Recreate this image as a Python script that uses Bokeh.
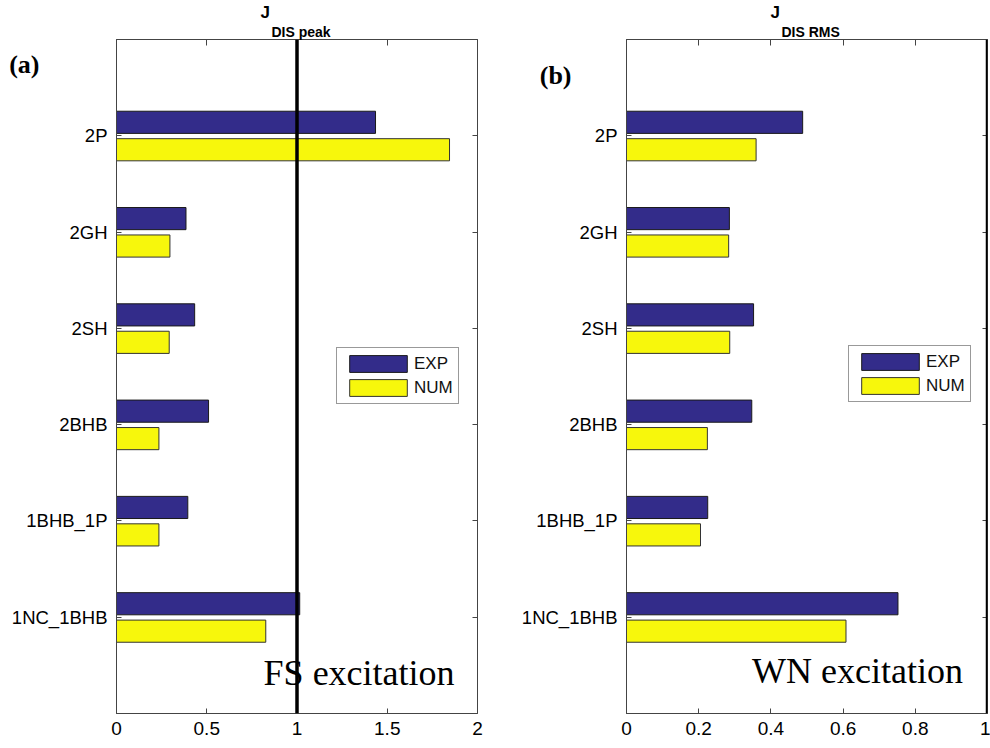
from bokeh.plotting import figure
from bokeh.models import (ColumnDataSource, FixedTicker, LinearAxis, Span, Label, Range1d, Title)
from bokeh.layouts import row
from bokeh.transform import dodge
from bokeh.embed import file_html
from bokeh.resources import INLINE

# ---- data (bottom to top) ----
categories = ["1NC_1BHB", "1BHB_1P", "2BHB", "2SH", "2GH", "2P"]
peak_exp = [1.015, 0.395, 0.51, 0.433, 0.385, 1.435]
peak_num = [0.827, 0.235, 0.235, 0.292, 0.296, 1.845]
rms_exp = [0.752, 0.225, 0.347, 0.352, 0.285, 0.488]
rms_num = [0.608, 0.205, 0.224, 0.286, 0.283, 0.359]
series_names = ["EXP", "NUM"]
peak_ticks = [0, 0.5, 1, 1.5, 2]
rms_ticks = [0, 0.2, 0.4, 0.6, 0.8, 1]

EXP_COLOR = "#332C8A"
NUM_COLOR = "#F7F70C"
FRAME = "#444444"
SANS = "Liberation Sans"
SERIF = "Liberation Serif"


def make_panel(exp, num, xmax, ticks, width, bl, br, title_sub, panel_tag,
               joff, soff, tag_y, tag_standoff, note, nx, ny, legloc):
    pos = list(range(1, len(categories) + 1))
    src = ColumnDataSource(dict(pos=pos, exp=exp, num=num))
    p = figure(width=width, height=748, output_backend="svg", toolbar_location=None,
               x_range=Range1d(0, xmax), y_range=Range1d(0, len(categories) + 1),
               min_border_left=bl, min_border_right=br, min_border_top=38,
               min_border_bottom=35, background_fill_color="white",
               border_fill_color=None, outline_line_color=FRAME)
    p.xgrid.visible = False
    p.ygrid.visible = False

    p.hbar(y=dodge("pos", 0.14, range=p.y_range), left=0, right="exp", height=0.23,
           fill_color=EXP_COLOR, line_color="#1a1a1a", line_width=1,
           legend_label=series_names[0], source=src)
    p.hbar(y=dodge("pos", -0.145, range=p.y_range), left=0, right="num", height=0.23,
           fill_color=NUM_COLOR, line_color="#333333", line_width=1,
           legend_label=series_names[1], source=src)

    p.add_layout(Span(location=1, dimension="height", line_color="black", line_width=3.5))

    # axes
    for ax in (p.xaxis[0], p.yaxis[0]):
        ax.axis_line_color = FRAME
        ax.major_tick_line_color = FRAME
        ax.major_tick_in = 5
        ax.major_tick_out = 0
        ax.minor_tick_line_color = None
        ax.major_label_text_font = SANS
        ax.major_label_text_color = "black"
    p.xaxis[0].major_label_text_font_size = "19px"
    p.yaxis[0].major_label_text_font_size = "18.5px"
    p.xaxis[0].ticker = FixedTicker(ticks=ticks)
    p.xaxis[0].major_label_standoff = 8
    p.xaxis[0].major_label_overrides = {t: (str(t) if t != int(t) else str(int(t))) for t in ticks}
    p.yaxis[0].ticker = FixedTicker(ticks=pos)
    p.yaxis[0].major_label_overrides = {i: c for i, c in zip(pos, categories)}
    p.yaxis[0].major_label_standoff = 9

    # panel tag as an outer left axis with a single labelled tick
    tag_axis = LinearAxis(ticker=FixedTicker(ticks=[tag_y]), axis_line_color=None,
                          major_tick_line_color=None, minor_tick_line_color=None,
                          major_tick_in=0, major_tick_out=0,
                          major_label_overrides={tag_y: panel_tag},
                          major_label_standoff=tag_standoff,
                          major_label_text_font=SERIF, major_label_text_font_style="bold",
                          major_label_text_font_size="26px", major_label_text_color="black")
    p.add_layout(tag_axis, "left")

    top = LinearAxis(ticker=FixedTicker(ticks=ticks), major_tick_in=6, major_tick_out=0,
                     axis_line_color=FRAME, major_tick_line_color=FRAME,
                     minor_tick_line_color=None, major_label_standoff=0,
                     major_label_overrides={t: "" for t in ticks})
    p.add_layout(top, "above")
    right = LinearAxis(ticker=FixedTicker(ticks=pos), major_tick_in=5, major_tick_out=0,
                       axis_line_color=None, major_tick_line_color=FRAME,
                       minor_tick_line_color=None, major_label_standoff=0,
                       major_label_overrides={i: "" for i in pos})
    p.add_layout(right, "right")

    # title J with subscript, as stacked titles
    p.add_layout(Title(text=title_sub, align="left", offset=soff, standoff=0,
                       text_font=SANS, text_font_style="bold", text_font_size="14px",
                       text_color="black"), "above")
    p.add_layout(Title(text="J", align="left", offset=joff, standoff=0,
                       text_font=SANS, text_font_style="bold", text_font_size="17px",
                       text_color="black"), "above")

    # excitation note (data units, inside frame)
    p.add_layout(Label(x=nx, y=ny, text=note, text_font=SERIF, text_font_size="36px",
                       text_align="right", text_color="black"))

    lg = p.legend[0]
    lg.location = legloc
    lg.border_line_color = "#333333"
    lg.border_line_width = 1
    lg.background_fill_color = "white"
    lg.background_fill_alpha = 1
    lg.label_text_font = SANS
    lg.label_text_font_size = "17px"
    lg.label_text_color = "#111111"
    lg.glyph_width = 72
    lg.glyph_height = 21
    lg.label_height = 20
    lg.spacing = 3
    lg.padding = 5
    lg.margin = 0
    lg.label_standoff = 0
    return p


p1 = make_panel(peak_exp, peak_num, 2, peak_ticks, 495, 116, 18, "DIS peak", "(a)",
                144, 155, 6.742, -31,
                "FS excitation", 1.873, 0.21, (220, 309))
p2 = make_panel(rms_exp, rms_num, 1, rms_ticks, 495, 131, 3, "DIS RMS", "(b)",
                144, 155, 6.626, -53,
                "WN excitation", 0.932, 0.235, (222, 311))

layout = row(p1, p2)
open("out.html", "w").write(file_html(layout, INLINE))
